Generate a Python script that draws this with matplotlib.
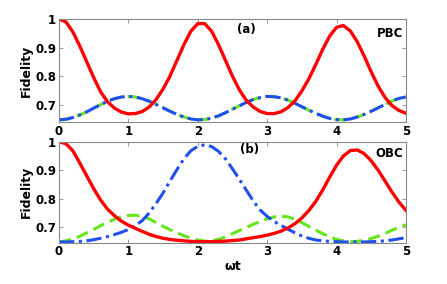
import numpy as np
import matplotlib
matplotlib.use("Agg")
import matplotlib.pyplot as plt

t = [round(0.1 * i, 1) for i in range(51)]

# (a) PBC
pbc_red = [1.0, 0.99, 0.955, 0.905, 0.85, 0.795, 0.745, 0.71, 0.688, 0.674, 0.668,
           0.669, 0.676, 0.692, 0.718, 0.755, 0.80, 0.855, 0.91, 0.957, 0.984,
           0.984, 0.957, 0.91, 0.855, 0.80, 0.752, 0.715, 0.692, 0.676, 0.669,
           0.669, 0.675, 0.69, 0.713, 0.748, 0.79, 0.84, 0.893, 0.94, 0.971,
           0.977, 0.958, 0.92, 0.87, 0.815, 0.765, 0.725, 0.697, 0.68, 0.67]
pbc_blue = [0.647, 0.649, 0.655, 0.664, 0.675, 0.688, 0.700, 0.712, 0.721, 0.727, 0.729,
            0.727, 0.721, 0.712, 0.701, 0.689, 0.677, 0.666, 0.657, 0.650, 0.647,
            0.648, 0.653, 0.661, 0.672, 0.684, 0.696, 0.708, 0.718, 0.725, 0.729,
            0.728, 0.724, 0.716, 0.705, 0.693, 0.681, 0.670, 0.660, 0.652, 0.648,
            0.647, 0.650, 0.657, 0.666, 0.677, 0.689, 0.701, 0.713, 0.722, 0.727]
pbc_green = list(pbc_blue)

# (b) OBC
obc_red = [1.0, 0.993, 0.968, 0.925, 0.88, 0.835, 0.795, 0.763, 0.74, 0.721, 0.707,
           0.696, 0.685, 0.675, 0.667, 0.661, 0.657, 0.654, 0.652, 0.650, 0.649,
           0.649, 0.649, 0.650, 0.651, 0.653, 0.655, 0.659, 0.663, 0.667, 0.672,
           0.678, 0.686, 0.697, 0.712, 0.732, 0.758, 0.79, 0.83, 0.875, 0.917,
           0.950, 0.969, 0.971, 0.958, 0.933, 0.90, 0.862, 0.823, 0.788, 0.759]
obc_blue = [0.648, 0.648, 0.649, 0.650, 0.652, 0.656, 0.661, 0.667, 0.674, 0.682, 0.692,
            0.705, 0.723, 0.75, 0.783, 0.82, 0.862, 0.902, 0.94, 0.968, 0.984,
            0.989, 0.983, 0.966, 0.94, 0.905, 0.868, 0.83, 0.792, 0.76, 0.738,
            0.72, 0.706, 0.693, 0.68, 0.669, 0.661, 0.655, 0.652, 0.65, 0.649,
            0.648, 0.648, 0.648, 0.648, 0.649, 0.65, 0.652, 0.655, 0.659, 0.663]
obc_green = [0.648, 0.652, 0.659, 0.668, 0.68, 0.692, 0.705, 0.717, 0.728, 0.736, 0.741,
             0.742, 0.738, 0.729, 0.716, 0.703, 0.691, 0.68, 0.670, 0.662, 0.655,
             0.651, 0.652, 0.657, 0.666, 0.677, 0.688, 0.699, 0.71, 0.72, 0.729,
             0.736, 0.739, 0.736, 0.728, 0.716, 0.703, 0.69, 0.677, 0.666, 0.657,
             0.652, 0.649, 0.65, 0.654, 0.66, 0.668, 0.678, 0.689, 0.699, 0.709]

xticks = [0, 1, 2, 3, 4, 5]
yticks = [0.7, 0.8, 0.9, 1.0]
ytick_labels = ["0.7", "0.8", "0.9", "1"]

RED = "#ff0000"
BLUE = "#1f4fee"
GREEN = "#66e61a"

fig = plt.figure(figsize=(4.47, 2.84), dpi=100)
ax1 = fig.add_axes([0.132, 0.570, 0.776, 0.363])
ax2 = fig.add_axes([0.132, 0.146, 0.776, 0.355])

def style(ax, ylim):
    ax.set_xlim(0, 5)
    ax.set_ylim(*ylim)
    ax.set_xticks(xticks)
    ax.set_xticklabels([str(v) for v in xticks], fontsize=8.5, fontweight="bold")
    ax.set_yticks(yticks)
    ax.set_yticklabels(ytick_labels, fontsize=8.5, fontweight="bold")
    ax.tick_params(direction="in", top=True, right=True, length=3, width=0.6,
                   color="#888888", pad=2)
    for s in ax.spines.values():
        s.set_color("#888888")
        s.set_linewidth(0.8)
    ax.set_ylabel("Fidelity", fontsize=9, fontweight="bold", labelpad=2)

for ax, g, b, r in ((ax1, pbc_green, pbc_blue, pbc_red), (ax2, obc_green, obc_blue, obc_red)):
    ax.plot(t, g, color=GREEN, lw=2.2, ls=(0, (4, 2)), solid_joinstyle="round")
    ax.plot(t, b, color=BLUE, lw=2.2, ls=(0, (5, 1.5, 1, 1.5)), solid_joinstyle="round")
    ax.plot(t, r, color=RED, lw=2.4, solid_joinstyle="round")

style(ax1, (0.639, 1.0))
ax1.text(2.70, 0.963, "(a)", fontsize=8.5, fontweight="bold", ha="center", va="center")
ax1.text(4.96, 0.95, "PBC", fontsize=8.5, fontweight="bold", ha="right", va="center")

style(ax2, (0.646, 1.0))
ax2.text(2.745, 0.974, "(b)", fontsize=8.5, fontweight="bold", ha="center", va="center")
ax2.text(4.96, 0.958, "OBC", fontsize=8.5, fontweight="bold", ha="right", va="center")
ax2.set_xlabel("ωt", fontsize=9, fontweight="bold", labelpad=1)

fig.savefig("out.png", dpi=100)
